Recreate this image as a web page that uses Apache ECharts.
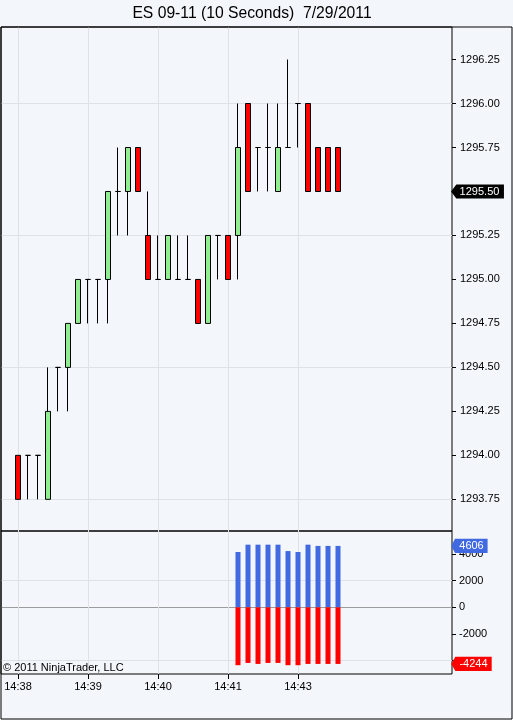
<!DOCTYPE html>
<html>
<head>
<meta charset="utf-8">
<script src="https://cdn.jsdelivr.net/npm/echarts@6/dist/echarts.min.js"></script>
<style>
html,body{margin:0;padding:0;background:#F3F6FA;}
#c{width:513px;height:720px;}
</style>
</head>
<body>
<div id="c"></div>
<script>
const chartTitle = 'ES 09-11 (10 Seconds)  7/29/2011';
const copyrightText = '\u00A9 2011 NinjaTrader, LLC';

// 10-second bars, in order
const opens  = [1294.00,1294.00,1294.00,1293.75,1294.50,1294.50,1294.75,1295.00,1295.00,1295.00,1295.50,1295.50,1295.75,1295.25,1295.00,1295.00,1295.00,1295.00,1295.00,1294.75,1295.25,1295.25,1295.25,1296.00,1295.75,1295.75,1295.50,1295.75,1296.00,1296.00,1295.75,1295.75,1295.75];
const closes = [1293.75,1294.00,1294.00,1294.25,1294.50,1294.75,1295.00,1295.00,1295.00,1295.50,1295.50,1295.75,1295.50,1295.00,1295.00,1295.25,1295.00,1295.00,1294.75,1295.25,1295.25,1295.00,1295.75,1295.50,1295.75,1295.75,1295.75,1295.75,1296.00,1295.50,1295.50,1295.50,1295.50];
const lows   = [1293.75,1293.75,1293.75,1293.75,1294.25,1294.25,1294.75,1294.75,1294.75,1294.75,1295.25,1295.25,1295.50,1295.00,1295.00,1295.00,1295.00,1295.00,1294.75,1294.75,1295.00,1295.00,1295.00,1295.50,1295.50,1295.50,1295.50,1295.75,1295.75,1295.50,1295.50,1295.50,1295.50];
const highs  = [1294.00,1294.00,1294.00,1294.50,1294.50,1294.75,1295.00,1295.00,1295.00,1295.50,1295.75,1295.75,1295.75,1295.50,1295.25,1295.25,1295.25,1295.25,1295.00,1295.25,1295.25,1295.25,1296.00,1296.00,1295.75,1296.00,1296.00,1296.25,1296.00,1296.00,1295.75,1295.75,1295.75];

const timeLabels    = ['14:38','14:39','14:40','14:41','14:43'];
const timeLabelBars = [0, 7, 14, 21, 28];

const priceTicks     = [1293.75,1294.00,1294.25,1294.50,1294.75,1295.00,1295.25,1295.50,1295.75,1296.00,1296.25];
const priceGridLines = [1293.75,1294.50,1295.25,1296.00];

// lower panel
const flowBars  = [22,23,24,25,26,27,28,29,30,31,32];
const buyFlow   = [4150,4700,4700,4700,4700,4220,4150,4700,4606,4606,4606];
const sellFlow  = [-4340,-4170,-4244,-4170,-4170,-4340,-4340,-4244,-4244,-4244,-4244];
const flowTicks = [-4000,-2000,0,2000,4000];
const flowLabels = [-2000,0,2000,4000];
const flowGridLines = [-4000,0,2000];

const FONT = '"Liberation Sans", Arial, sans-serif';
const GRID_COLOR = '#DEE2E8';
const X_MIN = -1.7, X_MAX = 43.4;

const candleData = opens.map((o, i) => [i, o, closes[i], lows[i], highs[i]]);
const buyData  = flowBars.map((b, i) => [b, buyFlow[i]]);
const sellData = flowBars.map((b, i) => [b, sellFlow[i]]);

function tag(y, text, color, w) {
  return {
    coord: [X_MAX, y],
    symbol: 'path://M0,6L6,0L60,0L60,12L6,12Z',
    symbolSize: [w, 13],
    symbolOffset: [w / 2 + 1, 0],
    itemStyle: { color: color, borderColor: color },
    label: {
      show: true, position: 'inside', offset: [2, 0],
      formatter: text, color: '#fff', fontSize: 11, fontFamily: FONT
    }
  };
}

const noLine = { show: false, onZero: false };

const chart = echarts.init(document.getElementById('c'), null, { renderer: 'canvas' });
chart.setOption({
  animation: false,
  backgroundColor: '#F3F6FA',
  textStyle: { fontFamily: FONT },
  graphic: [
    { type: 'text', x: 252, y: 13.5, style: { text: chartTitle, fill: '#000', font: '15.7px ' + FONT, textAlign: 'center', textVerticalAlign: 'middle' } },
    { type: 'rect', shape: { x: 1, y: 27, width: 511, height: 692 }, style: { fill: 'none', stroke: '#000', lineWidth: 1 }, z: 100 },
    { type: 'text', x: 3, y: 668, style: { text: copyrightText, fill: '#000', font: '11px ' + FONT, textVerticalAlign: 'middle' }, z: 100 }
  ],
  grid: [
    { left: 1, top: 27, width: 451, height: 504, show: true, borderColor: '#000', borderWidth: 1, backgroundColor: 'transparent' },
    { left: 1, top: 531, width: 451, height: 143, show: true, borderColor: '#000', borderWidth: 1, backgroundColor: 'transparent' }
  ],
  xAxis: [
    { gridIndex: 0, type: 'value', min: X_MIN, max: X_MAX,
      axisLine: noLine, axisTick: { show: false, customValues: timeLabelBars },
      axisLabel: { show: false }, splitLine: { show: true, lineStyle: { color: GRID_COLOR } } },
    { gridIndex: 1, type: 'value', min: X_MIN, max: X_MAX, position: 'bottom',
      axisLine: noLine,
      axisTick: { show: true, length: 5, lineStyle: { color: '#000' }, customValues: timeLabelBars },
      axisLabel: { show: true, customValues: timeLabelBars, margin: 7, color: '#000', fontSize: 11, fontFamily: FONT,
        formatter: v => timeLabels[timeLabelBars.indexOf(Math.round(v))] || '' },
      splitLine: { show: true, lineStyle: { color: GRID_COLOR } } }
  ],
  yAxis: [
    { gridIndex: 0, type: 'value', position: 'right', min: 1293.57, max: 1296.435,
      axisLine: noLine,
      axisTick: { show: true, length: 4, lineStyle: { color: '#000' }, customValues: priceTicks },
      axisLabel: { customValues: priceTicks, margin: 8, color: '#000', fontSize: 11, fontFamily: FONT, formatter: v => v.toFixed(2) },
      splitLine: { show: false } },
    { gridIndex: 0, type: 'value', position: 'right', min: 1293.57, max: 1296.435,
      axisLine: noLine, axisTick: { show: false, customValues: priceGridLines },
      axisLabel: { show: false }, splitLine: { show: true, lineStyle: { color: GRID_COLOR } } },
    { gridIndex: 1, type: 'value', position: 'right', min: -5000, max: 5725,
      axisLine: noLine,
      axisTick: { show: true, length: 4, lineStyle: { color: '#000' }, customValues: flowTicks },
      axisLabel: { customValues: flowLabels, margin: 7, color: '#000', fontSize: 11, fontFamily: FONT, formatter: v => String(v) },
      splitLine: { show: false } },
    { gridIndex: 1, type: 'value', position: 'right', min: -5000, max: 5725,
      axisLine: noLine, axisTick: { show: false, customValues: flowGridLines },
      axisLabel: { show: false },
      splitLine: { show: true, lineStyle: { color: [GRID_COLOR, '#9C9C9C', GRID_COLOR] } } }
  ],
  series: [
    { type: 'candlestick', xAxisIndex: 0, yAxisIndex: 0, data: candleData, barWidth: 6,
      itemStyle: { color: '#90EE90', color0: '#FF0000', borderColor: '#000', borderColor0: '#000', borderColorDoji: '#000', borderWidth: 1 },
      markPoint: { silent: true, data: [tag(closes[closes.length - 1], closes[closes.length - 1].toFixed(2), '#000', 49)] } },
    { type: 'bar', xAxisIndex: 1, yAxisIndex: 2, stack: 'flow', data: buyData, barWidth: 5,
      itemStyle: { color: '#4169E1' },
      markPoint: { silent: true, data: [tag(buyFlow[buyFlow.length - 1], String(buyFlow[buyFlow.length - 1]), '#4169E1', 33)] } },
    { type: 'bar', xAxisIndex: 1, yAxisIndex: 2, stack: 'flow', data: sellData, barWidth: 5,
      itemStyle: { color: '#FF0000' },
      markPoint: { silent: true, data: [tag(sellFlow[sellFlow.length - 1], String(sellFlow[sellFlow.length - 1]), '#FF0000', 37)] } }
  ]
});
</script>
</body>
</html>
